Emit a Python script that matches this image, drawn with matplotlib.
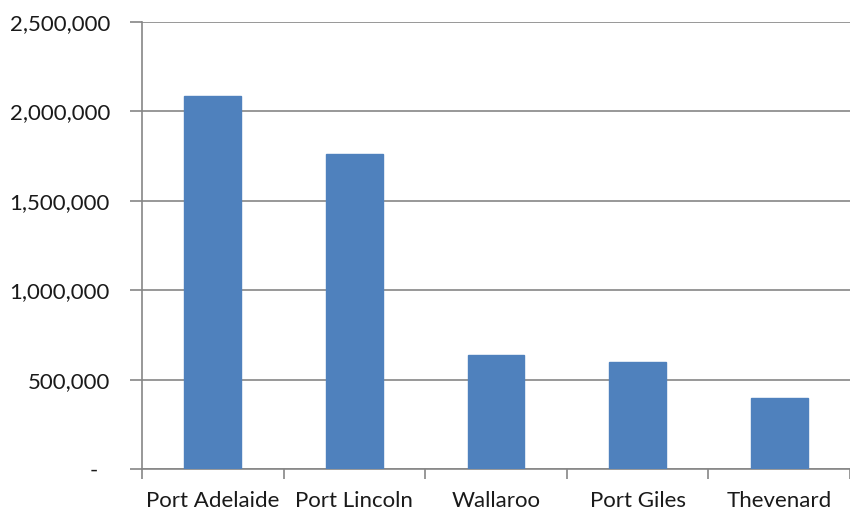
import matplotlib
matplotlib.use('agg')
import matplotlib.pyplot as plt
import numpy as np
from matplotlib.ticker import FuncFormatter, FixedLocator

ports = ['Port Adelaide', 'Port Lincoln', 'Wallaroo', 'Port Giles', 'Thevenard']
tonnes = [2086000, 1764000, 639000, 596000, 398000]


def fmt(v, pos):
    if v == 0:
        return '-  '
    return '{:,.0f}'.format(v)


plt.rcParams['font.family'] = ['Lato', 'DejaVu Sans']
fig = plt.figure(figsize=(8.5, 5.14), dpi=100)
ax = fig.add_axes([0.167, 0.0875, 0.833, 0.8695])

x = np.arange(len(ports))
ax.bar(x, tonnes, width=0.40, color='#4F81BD', edgecolor='#4F81BD', zorder=3)

ax.set_xlim(-0.5, len(ports) - 0.5)
ax.set_ylim(0, 2500000)
ax.set_yticks(np.arange(0, 2500001, 500000))
ax.yaxis.set_major_formatter(FuncFormatter(fmt))
ax.grid(axis='y', color='#868686', linewidth=1.2, zorder=0)

ax.set_xticks(x)
ax.set_xticklabels(ports)
ax.xaxis.set_minor_locator(FixedLocator(np.arange(-0.5, len(ports), 1.0)))
ax.tick_params(axis='x', which='major', length=0, pad=16, labelsize=16, colors='#1a1a1a')
ax.tick_params(axis='x', which='minor', length=7, width=1.2, color='#868686')
ax.tick_params(axis='y', length=9, width=1.2, color='#868686', pad=14, labelsize=16, labelcolor='#1a1a1a')

for side in ['top', 'right']:
    ax.spines[side].set_visible(False)
for side in ['left', 'bottom']:
    ax.spines[side].set_color('#868686')
    ax.spines[side].set_linewidth(1.2)

plt.savefig('out.png', dpi=100)
